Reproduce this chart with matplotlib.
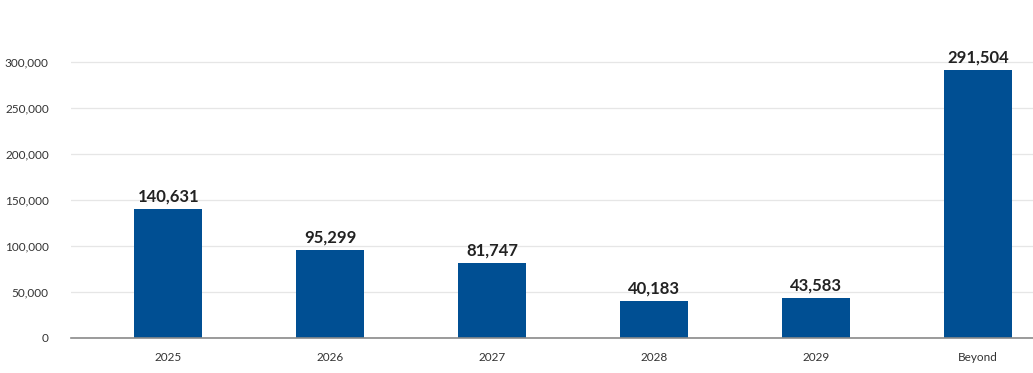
import matplotlib
matplotlib.use("Agg")
import matplotlib.pyplot as plt

categories = ["2025", "2026", "2027", "2028", "2029", "Beyond"]
values = [140631, 95299, 81747, 40183, 43583, 291504]
yticks = [0, 50000, 100000, 150000, 200000, 250000, 300000]

plt.rcParams['font.family'] = ['Lato', 'DejaVu Sans']

fig = plt.figure(figsize=(10.33, 3.73), dpi=100)
# axes from x=71 to right edge, zero line at y=338, top at y=20
ax = fig.add_axes([71 / 1033, 1 - 338 / 373, 1 - 71 / 1033, 318 / 373])

x = range(len(categories))
bars = ax.bar(x, values, width=0.42, color="#004f93", zorder=3)

for xi, v in zip(x, values):
    ax.text(xi, v + 5000, f"{v:,}", ha="center", va="bottom",
            fontsize=12, fontweight="bold", color="#222222")

# the last slot runs past the right edge of the picture
ax.set_xlim(-0.6, -0.6 + 962 / 162)
ax.set_ylim(0, 318 / 276 * 300000)
ax.set_yticks(yticks)
ax.set_yticklabels([f"{t:,}" for t in yticks])
ax.set_xticks(list(x))
ax.set_xticklabels(categories)
ax.tick_params(axis="both", length=0, labelsize=8.5, colors="#333333")
ax.tick_params(axis="y", pad=16)
ax.tick_params(axis="x", pad=10)

ax.grid(axis="y", color="#e6e6e6", linewidth=0.9, zorder=0)
for s in ["top", "right", "left"]:
    ax.spines[s].set_visible(False)
ax.spines["bottom"].set_color("#8a8a8a")
ax.spines["bottom"].set_linewidth(1.2)
ax.spines["bottom"].set_zorder(4)

fig.savefig("out.png", dpi=100)
